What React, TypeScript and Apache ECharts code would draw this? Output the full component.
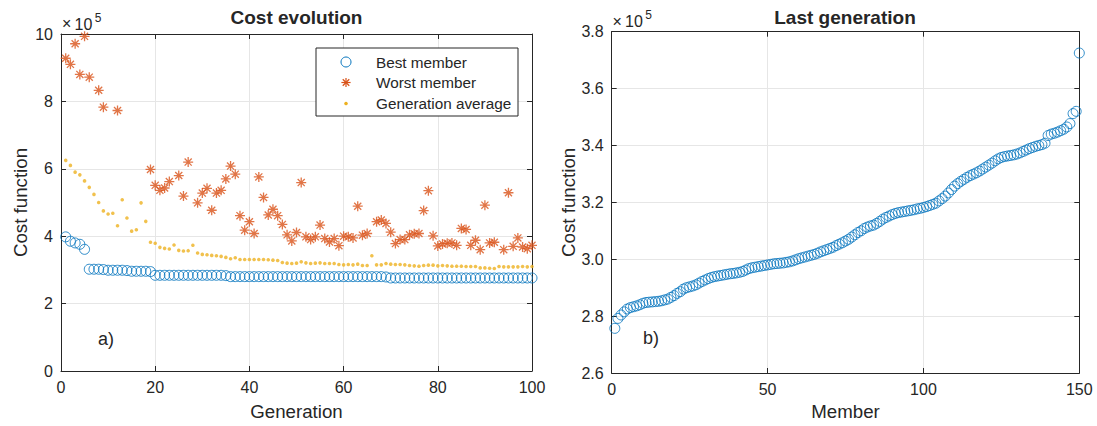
import { useEffect, useRef } from "react";
import * as echarts from "echarts";

// Cost values are expressed in units of 10^5 (see the axis multiplier).
const generations: number[] = Array.from({ length: 100 }, (_, i) => i + 1);

const bestMember: number[] = [
  3.98, 3.85, 3.8, 3.76, 3.61, 3.02, 3.02, 3.02, 3.01, 2.99,
  2.99, 2.99, 2.99, 2.98, 2.96, 2.96, 2.96, 2.96, 2.95, 2.84,
  2.84, 2.84, 2.84, 2.84, 2.84, 2.84, 2.84, 2.84, 2.84, 2.84,
  2.84, 2.84, 2.84, 2.84, 2.83, 2.8, 2.8, 2.8, 2.8, 2.8,
  2.8, 2.8, 2.8, 2.8, 2.8, 2.8, 2.8, 2.8, 2.8, 2.8,
  2.8, 2.8, 2.8, 2.8, 2.8, 2.8, 2.8, 2.8, 2.8, 2.8,
  2.8, 2.8, 2.8, 2.8, 2.8, 2.8, 2.8, 2.8, 2.79, 2.76,
  2.76, 2.76, 2.76, 2.76, 2.76, 2.76, 2.76, 2.76, 2.76, 2.76,
  2.76, 2.76, 2.76, 2.76, 2.76, 2.76, 2.76, 2.76, 2.76, 2.76,
  2.76, 2.76, 2.76, 2.76, 2.76, 2.76, 2.76, 2.76, 2.76, 2.76,
];

// null: the worst member of that generation lies above the plotted range
const worstMember: (number | null)[] = [
  9.28, 9.1, 9.71, 8.8, 9.93, 8.72, null, 8.33, 7.83, null,
  null, 7.73, null, null, null, null, null, null, 5.98, 5.51,
  5.36, 5.43, 5.62, null, 5.8, 5.19, 6.2, null, 4.99, 5.28,
  5.42, 4.77, 5.28, 5.36, 5.7, 6.08, 5.84, 4.61, 4.18, 4.43,
  4.08, 5.76, 5.15, 4.63, 4.8, 4.61, 4.35, 4.04, 3.86, 4.11,
  5.59, 3.98, 3.9, 3.98, 4.33, 3.93, 3.83, 3.93, 3.72, 4.0,
  3.98, 3.95, 4.89, 4.03, 4.08, null, 4.43, 4.48, 4.38, 4.12,
  3.78, 3.9, 3.9, 4.04, 4.07, 4.08, 4.76, 5.35, 4.01, 3.71,
  3.77, 3.79, 3.8, 3.73, 4.23, 4.2, 3.73, 3.88, 3.6, 4.92,
  3.8, 3.82, null, 3.6, 5.29, 3.7, 3.95, 3.68, 3.63, 3.73,
];

const generationAverage: number[] = [
  6.25, 6.1, 5.9, 5.82, 5.64, 5.45, 5.24, 5.0, 4.75, 4.66,
  4.68, 4.31, 5.08, 4.54, 4.15, 4.19, 4.99, 4.44, 3.82, 3.79,
  3.67, 3.64, 3.62, 3.74, 3.58, 3.56, 3.57, 3.73, 3.5, 3.46,
  3.45, 3.43, 3.42, 3.4, 3.37, 3.33, 3.36, 3.31, 3.31, 3.31,
  3.31, 3.31, 3.31, 3.3, 3.29, 3.28, 3.22, 3.2, 3.19, 3.2,
  3.24, 3.21, 3.19, 3.2, 3.21, 3.19, 3.19, 3.19, 3.16, 3.15,
  3.16, 3.15, 3.17, 3.13, 3.13, 3.42, 3.15, 3.15, 3.19, 3.17,
  3.16, 3.16, 3.15, 3.13, 3.12, 3.11, 3.13, 3.14, 3.14, 3.12,
  3.13, 3.12, 3.11, 3.11, 3.11, 3.1, 3.1, 3.1, 3.06, 3.06,
  3.05, 3.04, 3.1, 3.09, 3.09, 3.09, 3.09, 3.1, 3.09, 3.1,
];

const members: number[] = Array.from({ length: 150 }, (_, i) => i + 1);

const lastGeneration: number[] = [
  2.757, 2.792, 2.804, 2.815, 2.825, 2.83, 2.833, 2.836, 2.84, 2.845,
  2.848, 2.849, 2.85, 2.851, 2.852, 2.854, 2.857, 2.86, 2.866, 2.872,
  2.88, 2.886, 2.895, 2.9, 2.903, 2.906, 2.91, 2.916, 2.922, 2.927,
  2.932, 2.936, 2.939, 2.941, 2.943, 2.945, 2.947, 2.949, 2.95, 2.952,
  2.954, 2.957, 2.962, 2.967, 2.97, 2.972, 2.974, 2.976, 2.978, 2.98,
  2.982, 2.984, 2.985, 2.986, 2.987, 2.989, 2.991, 2.994, 2.998, 3.002,
  3.005, 3.008, 3.011, 3.014, 3.017, 3.021, 3.026, 3.03, 3.034, 3.038,
  3.042, 3.048, 3.053, 3.058, 3.064, 3.07, 3.078, 3.086, 3.094, 3.1,
  3.108, 3.113, 3.117, 3.12, 3.126, 3.133, 3.141, 3.147, 3.152, 3.157,
  3.161, 3.164, 3.166, 3.168, 3.17, 3.172, 3.174, 3.177, 3.179, 3.182,
  3.185, 3.189, 3.193, 3.197, 3.205, 3.213, 3.222, 3.233, 3.245, 3.257,
  3.266, 3.274, 3.281, 3.288, 3.294, 3.299, 3.304, 3.31, 3.317, 3.324,
  3.331, 3.338, 3.346, 3.353, 3.358, 3.361, 3.363, 3.365, 3.367, 3.37,
  3.374, 3.379, 3.384, 3.389, 3.393, 3.397, 3.4, 3.403, 3.408, 3.435,
  3.44, 3.443, 3.447, 3.452, 3.457, 3.465, 3.477, 3.512, 3.52, 3.725,
];

const legendLabels = ["Best member", "Worst member", "Generation average"];

const FONT = '"Liberation Sans", Arial, Helvetica, sans-serif';
const INK = "#262626";
const GRID_LINE = "#e6e6e6";
const BLUE = "#0072BD";
const ORANGE = "#D95319";
const YELLOW = "#EDB120";
const ASTERISK = "path://M0,5H10M5,0V10M1.46,1.46L8.54,8.54M8.54,1.46L1.46,8.54";

type AxisOpts = {
  gridIndex: number;
  min: number;
  max: number;
  interval: number;
  position: string;
  labels: boolean;
  name?: string;
  nameGap?: number;
  formatter?: (v: number) => string;
};

function makeAxis(o: AxisOpts) {
  return {
    type: "value",
    gridIndex: o.gridIndex,
    min: o.min,
    max: o.max,
    interval: o.interval,
    position: o.position,
    name: o.name,
    nameLocation: "middle",
    nameGap: o.nameGap,
    nameTextStyle: { color: INK, fontSize: 18.7, fontFamily: FONT },
    axisLine: { show: true, onZero: false, lineStyle: { color: INK, width: 1 } },
    axisTick: { show: true, inside: true, length: 5, lineStyle: { color: INK, width: 1 } },
    axisLabel: {
      show: o.labels,
      color: INK,
      fontSize: 16,
      fontFamily: FONT,
      margin: 8,
      formatter: o.formatter,
    },
    splitLine: { show: o.labels, lineStyle: { color: GRID_LINE, width: 1 } },
  };
}

function asteriskLines(cx: number, cy: number, r: number) {
  const d = r * 0.707;
  const seg = (x1: number, y1: number, x2: number, y2: number) => ({
    type: "line",
    shape: { x1: cx + x1, y1: cy + y1, x2: cx + x2, y2: cy + y2 },
    style: { stroke: ORANGE, lineWidth: 1.2 },
  });
  return [seg(-r, 0, r, 0), seg(0, -r, 0, r), seg(-d, -d, d, d), seg(d, -d, -d, d)];
}

function text(x: number, y: number, t: string, size: number, extra: any = {}) {
  return {
    type: "text",
    x,
    y,
    style: {
      text: t,
      fill: INK,
      fontSize: size,
      fontFamily: FONT,
      fontWeight: extra.weight || "normal",
      align: extra.align || "left",
      verticalAlign: "middle",
    },
  };
}

export default function App() {
  const ref = useRef<HTMLDivElement>(null);

  useEffect(() => {
    if (!ref.current) return;
    const chart = echarts.init(ref.current, null, { renderer: "svg" });

    const bestData = generations.map((g, i) => [g, bestMember[i]]);
    const worstData = generations
      .map((g, i) => [g, worstMember[i]])
      .filter((p) => p[1] !== null);
    const avgData = generations.map((g, i) => [g, generationAverage[i]]);
    const lastData = members.map((m, i) => [m, lastGeneration[i]]);

    const legendX = 316;
    const legendY = 48;
    const rowY = [62, 82.5, 103.5];

    chart.setOption({
      animation: false,
      backgroundColor: "#ffffff",
      grid: [
        { left: 61, top: 34, width: 471, height: 337 },
        { left: 611.7, top: 31.7, width: 467.6, height: 341.6 },
      ],
      xAxis: [
        makeAxis({ gridIndex: 0, min: 0, max: 100, interval: 20, position: "bottom", labels: true, name: "Generation", nameGap: 31 }),
        makeAxis({ gridIndex: 0, min: 0, max: 100, interval: 20, position: "top", labels: false }),
        makeAxis({ gridIndex: 1, min: 0, max: 150, interval: 50, position: "bottom", labels: true, name: "Member", nameGap: 29 }),
        makeAxis({ gridIndex: 1, min: 0, max: 150, interval: 50, position: "top", labels: false }),
      ],
      yAxis: [
        makeAxis({ gridIndex: 0, min: 0, max: 10, interval: 2, position: "left", labels: true, name: "Cost function", nameGap: 31 }),
        makeAxis({ gridIndex: 0, min: 0, max: 10, interval: 2, position: "right", labels: false }),
        makeAxis({
          gridIndex: 1, min: 2.6, max: 3.8, interval: 0.2, position: "left", labels: true,
          name: "Cost function", nameGap: 33, formatter: (v: number) => v.toFixed(1),
        }),
        makeAxis({ gridIndex: 1, min: 2.6, max: 3.8, interval: 0.2, position: "right", labels: false }),
      ],
      series: [
        {
          name: legendLabels[0],
          type: "scatter",
          xAxisIndex: 0,
          yAxisIndex: 0,
          data: bestData,
          symbol: "circle",
          symbolSize: 10,
          itemStyle: { color: "rgba(0,0,0,0)", borderColor: BLUE, borderWidth: 1 },
        },
        {
          name: legendLabels[1],
          type: "scatter",
          xAxisIndex: 0,
          yAxisIndex: 0,
          data: worstData,
          symbol: ASTERISK,
          symbolSize: 10,
          itemStyle: { color: ORANGE, borderColor: ORANGE, borderWidth: 1.3 },
        },
        {
          name: legendLabels[2],
          type: "scatter",
          xAxisIndex: 0,
          yAxisIndex: 0,
          data: avgData,
          symbol: "circle",
          symbolSize: 3.6,
          itemStyle: { color: YELLOW },
        },
        {
          name: "Last generation",
          type: "scatter",
          xAxisIndex: 2,
          yAxisIndex: 2,
          data: lastData,
          symbol: "circle",
          symbolSize: 10,
          itemStyle: { color: "rgba(0,0,0,0)", borderColor: BLUE, borderWidth: 1 },
        },
      ],
      graphic: [
        // titles
        text(296.5, 17, "Cost evolution", 19, { align: "center", weight: "bold" }),
        text(845, 17, "Last generation", 19, { align: "center", weight: "bold" }),
        // axis multipliers (×10^5)
        text(62, 23.5, "×", 16),
        text(74.5, 24, "10", 16),
        text(94.8, 17.5, "5", 12),
        text(612.5, 21, "×", 16),
        text(625, 21.5, "10", 16),
        text(645.3, 15, "5", 12),
        // panel tags
        text(98, 339, "a)", 18),
        text(643, 337.5, "b)", 18),
        // legend box
        {
          type: "rect",
          shape: { x: legendX, y: legendY, width: 202, height: 68 },
          style: { fill: "#ffffff", stroke: INK, lineWidth: 1 },
          z: 10,
        },
        {
          type: "circle",
          shape: { cx: 346, cy: rowY[0], r: 5 },
          style: { fill: "none", stroke: BLUE, lineWidth: 1 },
          z: 11,
        },
        ...asteriskLines(346, rowY[1], 4.6).map((l) => ({ ...l, z: 11 })),
        {
          type: "circle",
          shape: { cx: 346, cy: rowY[2], r: 1.8 },
          style: { fill: YELLOW },
          z: 11,
        },
        ...legendLabels.map((label, i) => ({ ...text(376, rowY[i], label, 15.3), z: 11 })),
      ],
    });

    return () => chart.dispose();
  }, []);

  return (
    <div
      ref={ref}
      style={{ position: "fixed", left: 0, top: 0, width: 1097, height: 426, background: "#fff" }}
    />
  );
}
